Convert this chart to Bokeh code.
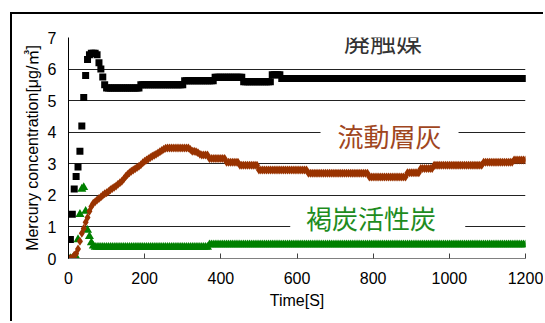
from bokeh.plotting import figure
from bokeh.models import Range1d, FixedTicker, Grid, Label
from bokeh.embed import file_html
from bokeh.resources import INLINE

# ---- data ----
time_s = list(range(0, 1205, 5))

# 廃触媒 (spent catalyst) - black squares
haishokubai = ([0.0, 0.6, 1.4, 2.2, 2.6, 2.9, 3.4, 4.2, 5.1, 5.8, 6.3, 6.45, 6.5, 6.5,
                6.5, 6.45, 6.2, 6.0, 5.75, 5.5, 5.4]
               + [5.4] * 17 + [5.5] * 23 + [5.63] * 16 + [5.74] * 15
               + [5.6] * 15 + [5.82] * 5 + [5.7] * 129)

# 流動層灰 (fluidized-bed ash) - brown diamonds
ryudousoubai = ([0.0, 0.0, 0.02, 0.1, 0.15, 0.3, 0.55, 0.8, 0.95, 1.15, 1.3, 1.5, 1.65,
                 1.75, 1.8, 1.85, 1.9, 1.95, 2.0, 2.05, 2.08, 2.12, 2.18, 2.22, 2.26,
                 2.3, 2.35, 2.4, 2.45, 2.52, 2.6, 2.66, 2.72, 2.76, 2.8, 2.84, 2.88,
                 2.92, 2.97, 3.03, 3.08, 3.12, 3.16, 3.2, 3.24, 3.27, 3.3, 3.34, 3.38,
                 3.42, 3.46, 3.49, 3.5]
                + [3.5] * 11 + [3.45, 3.4, 3.4, 3.38, 3.35, 3.3] + [3.28] * 4
                + [3.17] * 9 + [3.05] * 7 + [2.95] * 10 + [2.8] * 26 + [2.7] * 32
                + [2.58] * 20 + [2.72] * 7 + [2.85] * 7 + [2.95] * 26 + [3.05] * 16
                + [3.12] * 7)

# 褐炭活性炭 (lignite activated carbon) - green triangles
kattan_kasseitan = ([0.0, 0.0, 0.0, 0.0, 0.05, 0.6, 1.4, 2.2, 2.25, 1.5, 0.9, 0.7, 0.5, 0.4]
                    + [0.36] * 60 + [0.44] * 167)

x_ticks = [0, 200, 400, 600, 800, 1000, 1200]
y_ticks = [0, 1, 2, 3, 4, 5, 6, 7]

series_names = ["廃触媒", "流動層灰", "褐炭活性炭"]

# ---- figure ----
p = figure(width=533, height=309, output_backend="svg", toolbar_location=None,
           x_range=Range1d(0, 1200), y_range=Range1d(0, 7),
           min_border_left=56, min_border_right=20, min_border_top=23,
           min_border_bottom=65)
p.styles = {"border-left": "2px solid black", "border-top": "2px solid black",
            "margin-left": "10px", "margin-top": "12px"}
p.outline_line_color = None
p.background_fill_color = "white"
p.border_fill_color = "white"

# grids
p.ygrid.ticker = FixedTicker(ticks=[1, 2, 3, 4, 5, 6])
p.ygrid.grid_line_color = "#222222"
p.ygrid.grid_line_width = 1
top_grid = Grid(dimension=1, ticker=FixedTicker(ticks=[7]), grid_line_color="#8c8c8c")
p.add_layout(top_grid)
p.xgrid.ticker = FixedTicker(ticks=[1200])
p.xgrid.grid_line_color = "#8c8c8c"

# x axis
p.xaxis.ticker = FixedTicker(ticks=x_ticks)
p.xaxis.axis_line_color = "#808080"
p.xaxis.major_tick_line_color = "#404040"
p.xaxis.major_tick_in = 5
p.xaxis.major_tick_out = 0
p.xaxis.minor_tick_line_color = None
p.xaxis.major_label_text_font = "Liberation Sans"
p.xaxis.major_label_text_font_size = "16px"
p.xaxis.major_label_text_color = "black"
p.xaxis.major_label_standoff = 13
p.xaxis.axis_label = "Time[S]"
p.xaxis.axis_label_text_font = "Liberation Sans"
p.xaxis.axis_label_text_font_size = "16px"
p.xaxis.axis_label_text_font_style = "normal"
p.xaxis.axis_label_text_color = "black"
p.xaxis.axis_label_standoff = 5

# y axis
p.yaxis.ticker = FixedTicker(ticks=y_ticks)
p.yaxis.axis_line_color = "black"
p.yaxis.major_tick_in = 0
p.yaxis.major_tick_out = 0
p.yaxis.minor_tick_line_color = None
p.yaxis.major_label_text_font = "Liberation Sans"
p.yaxis.major_label_text_font_size = "16px"
p.yaxis.major_label_text_color = "black"
p.yaxis.major_label_standoff = 12
p.yaxis.axis_label = "Mercury concentration[μg/㎥]"
p.yaxis.axis_label_text_font = "'Liberation Sans', 'Noto Sans CJK JP'"
p.yaxis.axis_label_text_font_size = "16px"
p.yaxis.axis_label_text_font_style = "normal"
p.yaxis.axis_label_text_color = "black"
p.yaxis.axis_label_standoff = 4

# white boxes behind the series labels (annotation placement)
label_box_x = [845, 843, 812]
label_box_y = [6.905, 3.896, 1.30]
label_box_w = [124, 138, 175]
p.rect(x=label_box_x, y=label_box_y, width=label_box_w, height=26,
       width_units="screen", height_units="screen",
       fill_color="white", line_color=None)

# series
p.scatter(time_s, kattan_kasseitan, marker="triangle", size=9,
          fill_color="#008000", line_color=None)
p.scatter(time_s, haishokubai, marker="square", size=7,
          fill_color="#000000", line_color=None)
p.scatter(time_s, ryudousoubai, marker="diamond", size=9,
          fill_color="#993300", line_color=None)

# series labels
label_x = [826, 843, 794]
label_y = [6.92, 3.896, 1.30]
label_colors = ["#333333", "#a0461e", "#1e8c1e"]
for name, lx, ly, c in zip(series_names, label_x, label_y, label_colors):
    p.add_layout(Label(x=lx, y=ly, text=name, text_align="center",
                       text_baseline="middle", text_font="Noto Sans CJK JP",
                       text_font_size="26px", text_color=c))

open("out.html", "w").write(file_html(p, INLINE))
